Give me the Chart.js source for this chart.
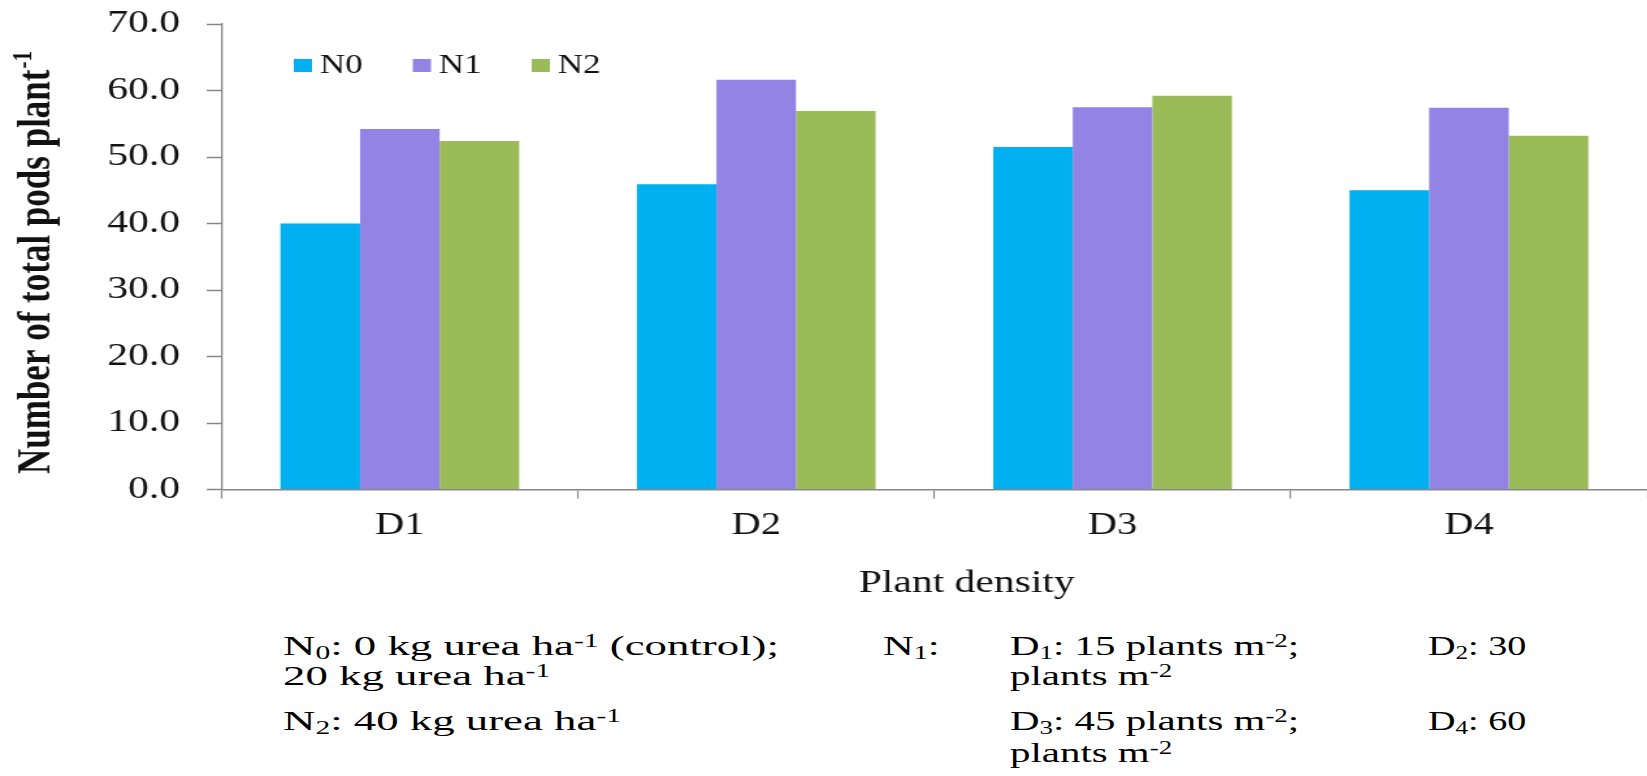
<!DOCTYPE html>
<html>
<head>
<meta charset="utf-8">
<script src="https://cdn.jsdelivr.net/npm/chart.js@4.4.1/dist/chart.umd.min.js"></script>
<style>
  html, body { margin: 0; padding: 0; background: #fff; overflow: hidden; }
  #page { position: relative; width: 1647px; height: 776px; background: #fff; }
  /* the plot is laid out narrow and widened horizontally */
  #plot { position: absolute; left: 0; top: 0; width: 1267px; height: 600px;
          transform: scaleX(1.3); transform-origin: 0 0; }
  #plot canvas { display: block; }
  .note { position: absolute; white-space: nowrap; color: #000;
          font-family: "Liberation Serif", "Times New Roman", serif;
          font-size: 28px; line-height: 28px;
          transform: scaleX(1.52); transform-origin: 0 0; }
  .note.c1 { transform: scaleX(1.6); }
  .note.c3 { transform: scaleX(1.46); }
  .note.c4 { transform: scaleX(1.36); }
  .note .lo { font-size: 0.66em; position: relative; top: 0.22em; line-height: 0; }
  .note .hi { font-size: 0.66em; position: relative; top: -0.42em; line-height: 0; }
</style>
</head>
<body>
<div id="page">
  <div id="plot"><canvas id="chart" width="1267" height="600" style="width:1267px;height:600px"></canvas></div>

  <div class="note c1" style="left:283px; top:632px">N<span class="lo">0</span>: 0 kg urea ha<span class="hi">-1</span> (control);</div>
  <div class="note c1" style="left:283px; top:662px">20 kg urea ha<span class="hi">-1</span></div>
  <div class="note c1" style="left:283px; top:707px">N<span class="lo">2</span>: 40 kg urea ha<span class="hi">-1</span></div>

  <div class="note" style="left:883px; top:632px">N<span class="lo">1</span>:</div>

  <div class="note c3" style="left:1010px; top:632px">D<span class="lo">1</span>: 15 plants m<span class="hi">-2</span>;</div>
  <div class="note c3" style="left:1010px; top:662px">plants m<span class="hi">-2</span></div>
  <div class="note c3" style="left:1010px; top:707px">D<span class="lo">3</span>: 45 plants m<span class="hi">-2</span>;</div>
  <div class="note c3" style="left:1010px; top:739px">plants m<span class="hi">-2</span></div>

  <div class="note c4" style="left:1428px; top:632px">D<span class="lo">2</span>: 30</div>
  <div class="note c4" style="left:1428px; top:707px">D<span class="lo">4</span>: 60</div>
</div>

<script>
// Plant density treatments and pods per plant for each nitrogen level
const categories = ['D1', 'D2', 'D3', 'D4'];
const seriesNames = ['N0', 'N1', 'N2'];
const n0Values = [40.0, 45.9, 51.5, 45.0];
const n1Values = [54.2, 61.6, 57.5, 57.4];
const n2Values = [52.4, 56.9, 59.2, 53.2];
const seriesColors = ['#00B0F0', '#9383E5', '#9BBB59'];
const yTickValues = [0, 10, 20, 30, 40, 50, 60, 70];

const serif = '"Liberation Serif", "Times New Roman", serif';
const axisGray = '#878787';
const textColor = '#111';

// Legend inside the plot, plus both axis titles (the y title carries a superscript)
const decorations = {
  id: 'decorations',
  afterDraw(chart) {
    const ctx = chart.ctx;
    ctx.save();

    ctx.font = '27px ' + serif;
    ctx.textBaseline = 'middle';
    ctx.textAlign = 'left';
    chart.data.datasets.forEach((ds, i) => {
      const x = 226 + i * 91.5;
      ctx.fillStyle = ds.backgroundColor;
      ctx.fillRect(x, 59, 14, 13);
      ctx.fillStyle = textColor;
      ctx.fillText(ds.label, x + 20, 66);
    });

    ctx.textBaseline = 'alphabetic';
    ctx.font = '32px ' + serif;
    ctx.textAlign = 'center';
    ctx.fillStyle = textColor;
    ctx.fillText('Plant density', 743.6, 592);

    ctx.translate(38, 474);
    ctx.rotate(-Math.PI / 2);
    ctx.textAlign = 'left';
    ctx.font = 'bold 35px ' + serif;
    const main = 'Number of total pods plant';
    ctx.fillText(main, 0, 0);
    const w = ctx.measureText(main).width;
    ctx.font = 'bold 21px ' + serif;
    ctx.fillText('-1', w + 1, -14);

    ctx.restore();
  }
};

const valueSets = [n0Values, n1Values, n2Values];

new Chart(document.getElementById('chart'), {
  type: 'bar',
  data: {
    labels: categories,
    datasets: seriesNames.map((name, i) => ({
      label: name,
      data: valueSets[i],
      backgroundColor: seriesColors[i],
      borderWidth: 0
    }))
  },
  options: {
    responsive: false,
    animation: false,
    devicePixelRatio: 1,
    layout: { padding: { left: 0, right: 0, top: 24, bottom: 0 } },
    datasets: { bar: { categoryPercentage: 0.67, barPercentage: 1.0 } },
    plugins: { legend: { display: false }, tooltip: { enabled: false } },
    scales: {
      x: {
        z: 1,
        grid: { display: true, drawOnChartArea: false, drawTicks: true, offset: true,
                tickLength: 9, tickWidth: 1.2, tickColor: axisGray },
        border: { display: true, color: axisGray, width: 1.6 },
        ticks: { font: { family: serif, size: 31 }, color: textColor, padding: 9,
                 maxRotation: 0, autoSkip: false },
        afterFit(scale) {
          scale.height = 600 - 489.5;
          scale.paddingLeft = 0;
          scale.paddingRight = 0;
        }
      },
      y: {
        min: 0,
        max: 70,
        grid: { display: true, drawOnChartArea: false, drawTicks: true,
                tickLength: 11.5, tickWidth: 1.5, tickColor: axisGray },
        border: { display: true, color: axisGray, width: 1.3 },
        ticks: { font: { family: serif, size: 32 }, color: textColor, padding: 20.5,
                 callback: v => Number(v).toFixed(1) },
        afterBuildTicks(scale) { scale.ticks = yTickValues.map(v => ({ value: v })); },
        afterFit(scale) {
          scale.width = 170.5;
          scale.paddingTop = 0;
          scale.paddingBottom = 0;
        }
      }
    }
  },
  plugins: [decorations]
});
</script>
</body>
</html>
